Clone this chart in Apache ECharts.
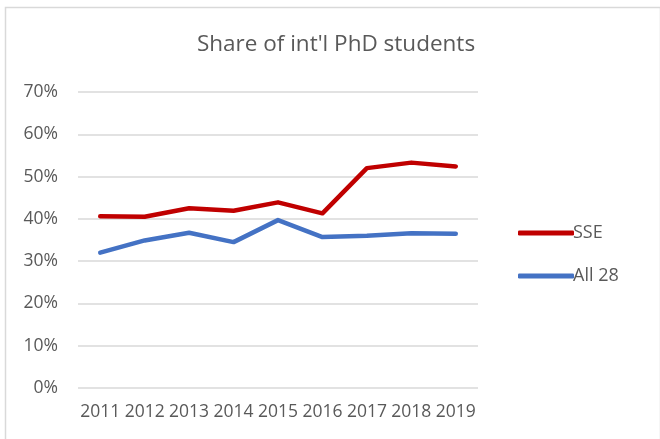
<!DOCTYPE html>
<html>
<head>
<meta charset="utf-8">
<script src="https://cdn.jsdelivr.net/npm/echarts@6/dist/echarts.min.js"></script>
<style>html,body{margin:0;padding:0;background:#fff}#c{width:660px;height:439px}</style>
</head>
<body>
<div id="c"></div>
<script>
var years = ['2011','2012','2013','2014','2015','2016','2017','2018','2019'];
var sse = [40.6, 40.5, 42.5, 41.9, 43.9, 41.3, 52.0, 53.3, 52.4];
var all28 = [32.0, 34.9, 36.7, 34.5, 39.7, 35.7, 36.0, 36.6, 36.5];
var yTicks = [0, 10, 20, 30, 40, 50, 60, 70];

var FONT = '"Open Sans", "Noto Sans", sans-serif';
var chart = echarts.init(document.getElementById('c'), null, {renderer: 'canvas'});
chart.setOption({
  animation: false,
  backgroundColor: '#fff',
  graphic: [{
    type: 'rect', left: 3, top: 5,
    shape: {width: 655, height: 440},
    style: {fill: 'none', stroke: '#d9d9d9', lineWidth: 1.5},
    silent: true
  }],
  title: {
    text: "Share of int'l PhD students",
    left: 331, top: 28, textAlign: 'center',
    textStyle: {fontFamily: FONT, fontSize: 22.5, fontWeight: 'normal', color: '#595959'}
  },
  grid: {left: 78, right: 182, top: 92, bottom: 51},
  legend: {
    orient: 'vertical', left: 513, top: 219,
    itemWidth: 56, itemHeight: 5, itemGap: 25,
    icon: 'roundRect',
    textStyle: {fontFamily: FONT, fontSize: 18, color: '#595959', padding: [0,0,0,-6]},
    data: ['SSE', 'All 28']
  },
  xAxis: {
    type: 'category', data: years, boundaryGap: true,
    axisLine: {show: false}, axisTick: {show: false},
    axisLabel: {fontFamily: FONT, fontSize: 17.5, color: '#595959', margin: 15, interval: 0}
  },
  yAxis: {
    type: 'value', min: yTicks[0], max: yTicks[yTicks.length - 1], interval: 10,
    axisLine: {show: false}, axisTick: {show: false},
    axisLabel: {fontFamily: FONT, fontSize: 17.5, color: '#595959', margin: 20,
      formatter: function (v) { return v + '%'; }},
    splitLine: {lineStyle: {color: '#d9d9d9', width: 1.5}}
  },
  series: [
    {name: 'SSE', type: 'line', data: sse, showSymbol: false, symbol: 'none',
     itemStyle: {color: '#C00000'},
     lineStyle: {color: '#C00000', width: 4.5, cap: 'round', join: 'round'}},
    {name: 'All 28', type: 'line', data: all28, showSymbol: false, symbol: 'none',
     itemStyle: {color: '#4472C4'},
     lineStyle: {color: '#4472C4', width: 4.5, cap: 'round', join: 'round'}}
  ]
});
</script>
</body>
</html>
